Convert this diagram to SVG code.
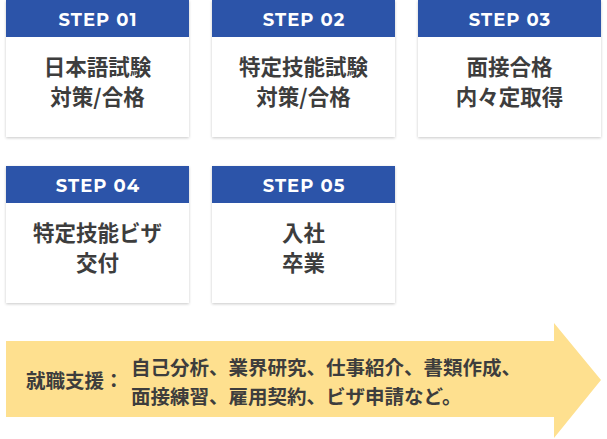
<svg xmlns="http://www.w3.org/2000/svg" width="607" height="439" viewBox="0 0 607 439">
<defs>
<filter id="sh" x="-10%" y="-10%" width="120%" height="125%">
<feGaussianBlur in="SourceAlpha" stdDeviation="1.6"/>
<feOffset dx="0" dy="1" result="b"/>
<feComponentTransfer><feFuncA type="linear" slope="0.22"/></feComponentTransfer>
<feMerge><feMergeNode/><feMergeNode in="SourceGraphic"/></feMerge>
</filter>
<style>
.body{fill:#ffffff;filter:url(#sh)}
.head{fill:#2c54a9}
.ht{font-family:"Montserrat","DejaVu Sans","Liberation Sans",sans-serif;font-weight:bold;font-size:18px;fill:#ffffff;text-anchor:middle;letter-spacing:1px}
.bt{font-family:"Noto Sans CJK JP",sans-serif;font-weight:bold;font-size:21.5px;fill:#3d3d3d;text-anchor:middle}
.at{font-family:"Noto Sans CJK JP",sans-serif;font-weight:bold;font-size:19.5px;fill:#3d3d3d}
</style>
</defs>
<rect width="607" height="439" fill="#ffffff"/>
<g id="step01">
<rect class="body" x="6" y="0" width="183" height="137"/>
<rect class="head" x="6" y="0" width="183" height="37"/>
<text class="ht" x="98" y="26">STEP 01</text>
<text class="bt" x="97.5" y="75">日本語試験</text>
<text class="bt" x="97.5" y="104.5">対策/合格</text>
</g>
<g id="step02">
<rect class="body" x="212" y="0" width="183" height="137"/>
<rect class="head" x="212" y="0" width="183" height="37"/>
<text class="ht" x="304" y="26">STEP 02</text>
<text class="bt" x="303.5" y="75">特定技能試験</text>
<text class="bt" x="303.5" y="104.5">対策/合格</text>
</g>
<g id="step03">
<rect class="body" x="418" y="0" width="183" height="137"/>
<rect class="head" x="418" y="0" width="183" height="37"/>
<text class="ht" x="510" y="26">STEP 03</text>
<text class="bt" x="509.5" y="75">面接合格</text>
<text class="bt" x="509.5" y="104.5">内々定取得</text>
</g>
<g id="step04">
<rect class="body" x="6" y="166" width="183" height="137"/>
<rect class="head" x="6" y="166" width="183" height="37"/>
<text class="ht" x="98" y="192">STEP 04</text>
<text class="bt" x="97.5" y="241">特定技能ビザ</text>
<text class="bt" x="97.5" y="270.5">交付</text>
</g>
<g id="step05">
<rect class="body" x="212" y="166" width="183" height="137"/>
<rect class="head" x="212" y="166" width="183" height="37"/>
<text class="ht" x="304" y="192">STEP 05</text>
<text class="bt" x="303.5" y="241">入社</text>
<text class="bt" x="303.5" y="270.5">卒業</text>
</g>
<g id="support">
<polygon points="6,341 554,341 554,323 601,380 554,438 554,417 6,417" fill="#fee08f"/>
<text class="at" x="26" y="388">就職支援：</text>
<text class="at" x="131" y="375">自己分析、業界研究、仕事紹介、書類作成、</text>
<text class="at" x="131" y="404">面接練習、雇用契約、ビザ申請など。</text>
</g>
<g id="connectors"></g>
</svg>
